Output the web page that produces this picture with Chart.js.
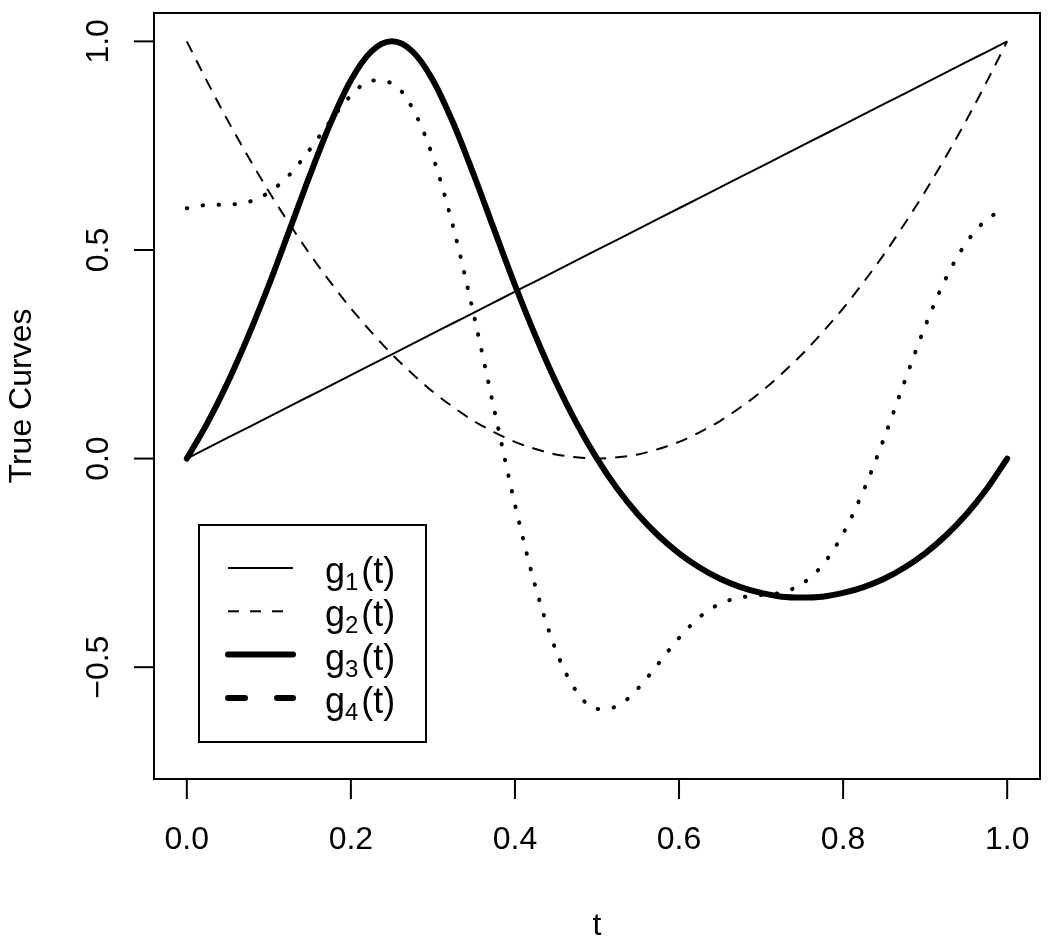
<!DOCTYPE html>
<html>
<head>
<meta charset="utf-8">
<script src="https://cdn.jsdelivr.net/npm/chart.js@4/dist/chart.umd.min.js"></script>
<style>
  html, body { margin: 0; padding: 0; background: #fff; }
  canvas { display: block; }
</style>
</head>
<body>
<canvas id="curves" width="1050" height="945"></canvas>
<script>

const tValues = [
  0.000, 0.025, 0.050, 0.075, 0.100, 0.125, 0.150, 0.175, 0.200, 0.225,
  0.250, 0.275, 0.300, 0.325, 0.350, 0.375, 0.400, 0.425, 0.450, 0.475,
  0.500, 0.525, 0.550, 0.575, 0.600, 0.625, 0.650, 0.675, 0.700, 0.725,
  0.750, 0.775, 0.800, 0.825, 0.850, 0.875, 0.900, 0.925, 0.950, 0.975,
  1.000
];

const g1 = [
  0.000, 0.025, 0.050, 0.075, 0.100, 0.125, 0.150, 0.175, 0.200, 0.225,
  0.250, 0.275, 0.300, 0.325, 0.350, 0.375, 0.400, 0.425, 0.450, 0.475,
  0.500, 0.525, 0.550, 0.575, 0.600, 0.625, 0.650, 0.675, 0.700, 0.725,
  0.750, 0.775, 0.800, 0.825, 0.850, 0.875, 0.900, 0.925, 0.950, 0.975,
  1.000
];

const g2 = [
  1.000, 0.903, 0.810, 0.723, 0.640, 0.563, 0.490, 0.423, 0.360, 0.303,
  0.250, 0.203, 0.160, 0.123, 0.090, 0.063, 0.040, 0.023, 0.010, 0.003,
  0.000, 0.003, 0.010, 0.023, 0.040, 0.063, 0.090, 0.123, 0.160, 0.203,
  0.250, 0.303, 0.360, 0.423, 0.490, 0.563, 0.640, 0.723, 0.810, 0.903,
  1.000
];

const g3 = [
  0.000, 0.085, 0.183, 0.294, 0.416, 0.547, 0.679, 0.803, 0.907, 0.976,
  1.000, 0.976, 0.907, 0.803, 0.679, 0.547, 0.416, 0.294, 0.183, 0.085,
  0.000, -0.073, -0.134, -0.185, -0.227, -0.261, -0.288, -0.308, -0.322, -0.331,
  -0.333, -0.331, -0.322, -0.308, -0.288, -0.261, -0.227, -0.185, -0.134, -0.073,
  0.000
];

const g4 = [
  0.600, 0.608, 0.609, 0.615, 0.638, 0.680, 0.741, 0.809, 0.870, 0.906,
  0.900, 0.840, 0.723, 0.553, 0.343, 0.115, -0.110, -0.307, -0.460, -0.558,
  -0.600, -0.593, -0.551, -0.491, -0.430, -0.380, -0.348, -0.333, -0.327, -0.321,
  -0.300, -0.255, -0.180, -0.076, 0.049, 0.185, 0.317, 0.431, 0.517, 0.573,
  0.600
];

const xTicks      = [0, 0.2, 0.4, 0.6, 0.8, 1];
const xTickLabels = ['0.0', '0.2', '0.4', '0.6', '0.8', '1.0'];
const yTicks      = [-0.5, 0, 0.5, 1];
const yTickLabels = ['\u22120.5', '0.0', '0.5', '1.0'];

const legendSubs  = ['1', '2', '3', '4'];

const INK  = '#000000';
const FONT = "'Liberation Sans', Arial, sans-serif";

/* ─── Helpers ─────────────────────────────────────────────────────── */
function pts(ys) {
  return tValues.map((t, i) => ({ x: t, y: ys[i] }));
}

// legend samples are styled on their own (g4 is dashed there, dotted in the plot)
const legendStyles = [
  { width: 2, dash: [],       cap: 'butt'  },
  { width: 2, dash: [11, 11], cap: 'butt'  },
  { width: 6, dash: [],       cap: 'round' },
  { width: 6, dash: [17, 32], cap: 'round' },
];

/* ─── Axes, box, titles and legend, drawn R style ─────────────────── */
const rFrame = {
  id: 'rFrame',
  afterDraw(chart) {
    const { ctx, chartArea: a, scales: { x, y } } = chart;
    ctx.save();
    ctx.strokeStyle = INK;
    ctx.fillStyle = INK;
    ctx.lineWidth = 2;
    ctx.setLineDash([]);

    ctx.strokeRect(a.left, a.top, a.right - a.left, a.bottom - a.top);

    // x axis
    ctx.font = `32px ${FONT}`;
    ctx.textAlign = 'center';
    ctx.textBaseline = 'alphabetic';
    xTicks.forEach((v, i) => {
      const px = x.getPixelForValue(v);
      ctx.beginPath();
      ctx.moveTo(px, a.bottom);
      ctx.lineTo(px, a.bottom + 20);
      ctx.stroke();
      ctx.fillText(xTickLabels[i], px, 849);
    });
    ctx.fillText('t', (a.left + a.right) / 2, 935);

    // y axis, labels turned like R's las = 0
    yTicks.forEach((v, i) => {
      const py = y.getPixelForValue(v);
      ctx.beginPath();
      ctx.moveTo(a.left - 20, py);
      ctx.lineTo(a.left, py);
      ctx.stroke();
      ctx.save();
      ctx.translate(108, py);
      ctx.rotate(-Math.PI / 2);
      ctx.fillText(yTickLabels[i], 0, 0);
      ctx.restore();
    });
    ctx.save();
    ctx.translate(31, (a.top + a.bottom) / 2);
    ctx.rotate(-Math.PI / 2);
    ctx.fillText('True Curves', 0, 0);
    ctx.restore();

    // legend
    ctx.strokeRect(199, 525, 227, 217);
    legendStyles.forEach((s, i) => {
      const ly = 568 + i * 43.3;
      ctx.beginPath();
      ctx.lineWidth = s.width;
      ctx.lineCap = s.cap;
      ctx.setLineDash(s.dash);
      ctx.moveTo(228, ly);
      ctx.lineTo(293, ly);
      ctx.stroke();
      ctx.setLineDash([]);
      ctx.lineCap = 'butt';

      const base = ly + 15;
      ctx.textAlign = 'left';
      ctx.font = `36px ${FONT}`;
      let cx = 325;
      ctx.fillText('g', cx, base);
      cx += ctx.measureText('g').width;
      ctx.font = `24px ${FONT}`;
      ctx.fillText(legendSubs[i], cx, base + 7);
      cx += ctx.measureText(legendSubs[i]).width + 3;
      ctx.font = `36px ${FONT}`;
      ctx.fillText('(t)', cx, base);
    });

    ctx.restore();
  }
};

/* ─── Chart ───────────────────────────────────────────────────────── */
new Chart(document.getElementById('curves'), {
  type: 'line',
  data: {
    datasets: [
      {
        label: 'g1(t)',
        data: pts(g1),
        borderColor: INK,
        borderWidth: 2,
      },
      {
        label: 'g2(t)',
        data: pts(g2),
        borderColor: INK,
        borderWidth: 2,
        borderDash: [12, 9],
      },
      {
        label: 'g3(t)',
        data: pts(g3),
        borderColor: INK,
        borderWidth: 6,
        borderCapStyle: 'round',
        borderJoinStyle: 'round',
      },
      {
        label: 'g4(t)',
        data: pts(g4),
        borderColor: INK,
        borderWidth: 4,
        borderDash: [0.5, 15.5],
        borderCapStyle: 'round',
      },
    ]
  },
  options: {
    responsive: false,
    animation: false,
    devicePixelRatio: 1,
    layout: { padding: { left: 154, top: 13, right: 10, bottom: 166 } },
    elements: {
      point: { radius: 0 },
      line: { fill: false, cubicInterpolationMode: 'monotone' }
    },
    plugins: {
      legend: { display: false },
      tooltip: { enabled: false }
    },
    scales: {
      x: { type: 'linear', min: -0.04, max: 1.04, display: false },
      y: { type: 'linear', min: -0.768, max: 1.068, display: false }
    }
  },
  plugins: [rFrame]
});
</script>
</body>
</html>
